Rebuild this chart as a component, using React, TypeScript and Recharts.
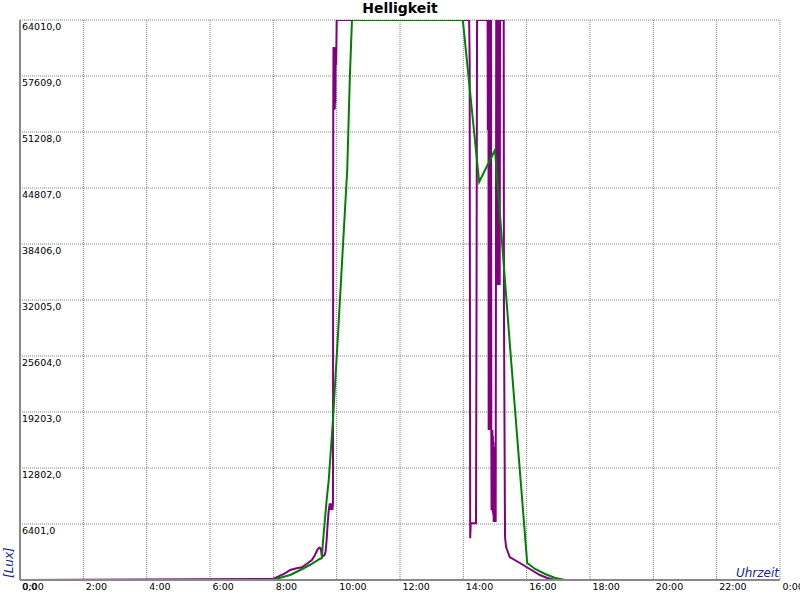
import React from 'react';
import { LineChart, Line, XAxis, YAxis, CartesianGrid } from 'recharts';

// time of day in minutes since midnight
const hourTicks = [0, 120, 240, 360, 480, 600, 720, 840, 960, 1080, 1200, 1320, 1440];
const luxTicks = [0, 6401, 12802, 19203, 25604, 32005, 38406, 44807, 51208, 57609, 64010];

// [minute, lux]
const greenReadings: [number, number][] = [
  [28, 0], [479, 0], [493, 263], [512, 572], [531, 1143], [549, 1714], [568, 2400], [572, 2515],
  [574, 4343], [581, 9144], [585, 11430], [593, 18289], [603, 28576], [612, 38292], [620, 46865],
  [625, 57495], [629, 64010], [839, 64010], [870, 45493], [900, 49151], [930, 25490], [961, 1943],
  [976, 1257], [995, 686], [1014, 229], [1033, 0], [1413, 0],
];

const purpleMorning: [number, number][] = [
  [0, 0], [479, 114], [489, 377], [502, 766], [512, 1143], [524, 1337], [534, 1452], [543, 1829],
  [553, 2286], [559, 2858], [563, 3429], [567, 3692], [570, 3623], [572, 2663], [577, 2858],
  [579, 3235], [581, 4572], [583, 6481], [585, 8001], [587, 8767], [588, 8001], [589, 8767],
  [590, 8001], [591, 8767], [592, 8001], [593, 8767], [593.5, 53723], [594, 60924], [594.5, 53723],
  [595, 60924], [595.5, 54000], [596, 60500], [596.5, 53800], [597, 60900], [597.5, 54500],
  [598, 60700], [599, 58867], [600, 64010],
];

const purpleAfternoon: [number, number][] = [
  [851, 64010], [852, 59250], [853, 4770], [854, 6480], [864, 6480], [865, 31780], [866, 64010],
  [886, 64010], [886.4, 51437], [886.8, 64010], [887.2, 51437], [887.6, 64010], [888, 17146],
  [888.5, 64010], [889, 17146], [889.5, 64010], [890, 17146], [890.5, 64010], [891, 17146],
  [891.5, 64010], [892, 17146], [892.5, 64010], [893, 17146], [893.5, 8000], [894, 17146],
  [894.5, 8000], [895, 17146], [895.5, 7800], [896, 16500], [896.5, 7500], [897, 15800],
  [897.5, 6630], [898, 15202], [898.5, 6630], [899, 15202], [899.5, 6630], [900, 15202],
  [900.5, 6630], [901, 15202], [901.3, 6630], [902.3, 64010], [902.9, 33720], [903.5, 64010],
  [904.1, 33720], [904.7, 64010], [905.3, 33720], [905.9, 64010], [906.5, 33720], [907.1, 64010],
  [907.7, 33720], [908.3, 64010], [908.9, 33720], [909.5, 64010], [916.5, 64010], [917, 30670],
  [919, 4915], [921, 3772], [923, 3430], [928, 2629], [947, 1943], [966, 1257], [985, 572],
  [999, 229], [1014, 0], [1440, 0],
];

const toRows = (r: [number, number][]) => r.map(([m, v]) => ({ m, v }));
const greenData = toRows(greenReadings);
const purpleData = toRows([...purpleMorning, ...purpleAfternoon]);

const FONT = 'DejaVu Sans';

const fmtTime = (m: number) => `${(m / 60) % 24}:00`;
const fmtLux = (v: number) => v.toFixed(1).replace('.', ',');

const XTick = (props: any) => {
  const { x, y, payload } = props;
  return (
    <text x={x + 2.5} y={y + 9.5} fontSize={9.5} fontFamily={FONT} fill="#000" textAnchor="start">
      {fmtTime(payload.value)}
    </text>
  );
};

const YTick = (props: any) => {
  const { x, y, payload } = props;
  return (
    <text x={x + 2} y={y + 9.5} fontSize={9.5} fontFamily={FONT} fill="#000" textAnchor="start">
      {fmtLux(payload.value)}
    </text>
  );
};

export default function App() {
  return (
    <div style={{ position: 'absolute', left: 0, top: 0, width: 800, height: 600, background: '#fff' }}>
      <LineChart width={800} height={600} data={purpleData} margin={{ top: 20, right: 20, bottom: 0, left: 20 }}>
        <CartesianGrid stroke="#808080" strokeDasharray="1 1" horizontalValues={luxTicks} verticalValues={hourTicks} />
        <XAxis
          dataKey="m"
          type="number"
          domain={[0, 1440]}
          ticks={hourTicks}
          interval={0}
          height={20}
          tickSize={0}
          tickMargin={0}
          tickLine={false}
          axisLine={{ stroke: '#888', strokeWidth: 2 }}
          tick={<XTick />}
          allowDataOverflow
        />
        <YAxis
          type="number"
          domain={[0, 64010]}
          ticks={luxTicks}
          interval={0}
          mirror
          width={60}
          tickSize={0}
          tickMargin={0}
          tickLine={false}
          axisLine={{ stroke: '#888', strokeWidth: 2 }}
          tick={<YTick />}
          allowDataOverflow
        />
        <Line data={purpleData} dataKey="v" type="linear" stroke="#800080" strokeWidth={2} dot={false} isAnimationActive={false} />
        <Line data={greenData} dataKey="v" type="linear" stroke="#008000" strokeWidth={2} dot={false} isAnimationActive={false} />
      </LineChart>
      <svg width={800} height={600} style={{ position: 'absolute', left: 0, top: 0, pointerEvents: 'none' }}>
        <text x={400} y={13} textAnchor="middle" fontFamily={FONT} fontWeight="bold" fontSize={14} fill="#000">
          Helligkeit
        </text>
        <text x={779} y={577} textAnchor="end" fontFamily={FONT} fontStyle="italic" fontSize={12} fill="#1c1c96">
          Uhrzeit
        </text>
        <text x={13} y={578} transform="rotate(-90, 13, 578)" textAnchor="start" fontFamily={FONT} fontStyle="italic" fontSize={12} fill="#1c1c96">
          [Lux]
        </text>
      </svg>
    </div>
  );
}
